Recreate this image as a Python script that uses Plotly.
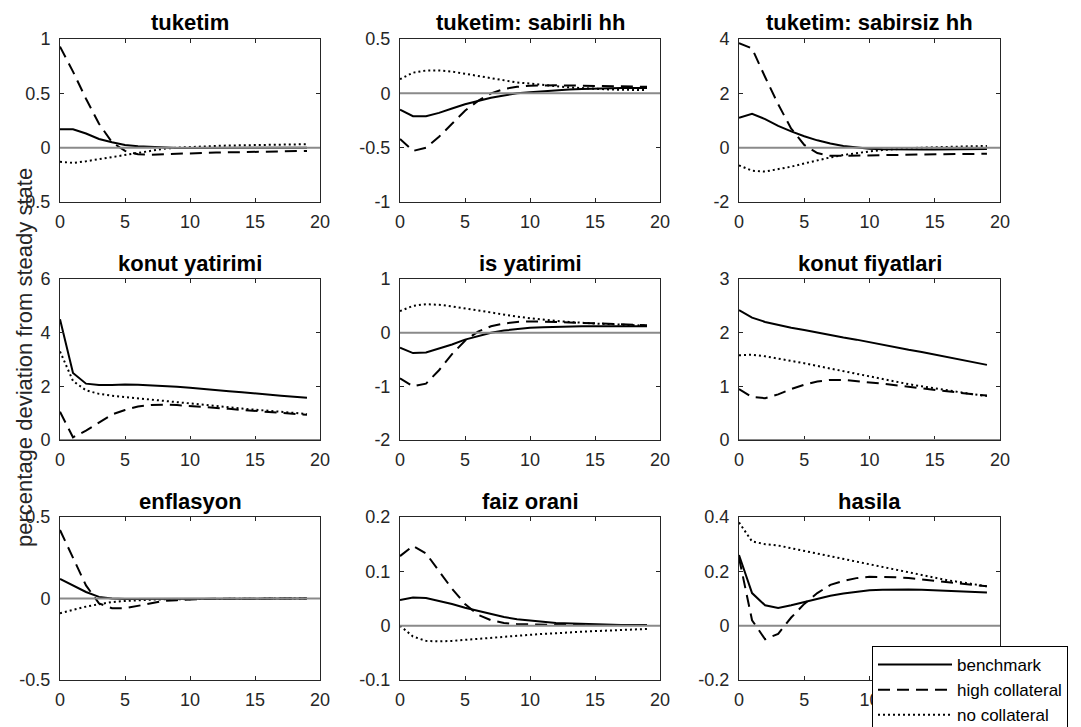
import plotly.graph_objects as go

W, H = 1081, 727

periods = list(range(20))

panel_titles = ["tuketim", "tuketim: sabirli hh", "tuketim: sabirsiz hh",
                "konut yatirimi", "is yatirimi", "konut fiyatlari",
                "enflasyon", "faiz orani", "hasila"]

series_names = ["benchmark", "high collateral", "no collateral"]

# --- tuketim
tuketim_bench = [0.17, 0.17, 0.13, 0.08, 0.05, 0.025, 0.012, 0.005, 0.0, -0.003, -0.004, -0.004, -0.004, -0.003, -0.003, -0.002, -0.002, -0.001, -0.001, 0.0]
tuketim_high = [0.93, 0.70, 0.45, 0.22, 0.05, -0.03, -0.06, -0.065, -0.06, -0.055, -0.05, -0.048, -0.045, -0.043, -0.04, -0.038, -0.036, -0.034, -0.032, -0.03]
tuketim_no = [-0.13, -0.14, -0.125, -0.105, -0.085, -0.065, -0.045, -0.025, -0.01, 0.0, 0.007, 0.012, 0.016, 0.02, 0.022, 0.025, 0.027, 0.029, 0.03, 0.032]

# --- tuketim: sabirli hh
sabirli_bench = [-0.15, -0.21, -0.21, -0.18, -0.14, -0.10, -0.07, -0.04, -0.02, 0.0, 0.01, 0.02, 0.03, 0.035, 0.04, 0.045, 0.047, 0.049, 0.05, 0.05]
sabirli_high = [-0.42, -0.53, -0.50, -0.40, -0.28, -0.16, -0.07, 0.0, 0.04, 0.06, 0.07, 0.075, 0.075, 0.072, 0.07, 0.068, 0.066, 0.064, 0.062, 0.06]
sabirli_no = [0.13, 0.19, 0.21, 0.21, 0.20, 0.18, 0.16, 0.14, 0.12, 0.10, 0.09, 0.075, 0.065, 0.055, 0.047, 0.04, 0.036, 0.033, 0.031, 0.03]

# --- tuketim: sabirsiz hh
sabirsiz_bench = [1.10, 1.25, 1.05, 0.80, 0.60, 0.42, 0.27, 0.15, 0.06, 0.0, -0.04, -0.06, -0.07, -0.07, -0.07, -0.065, -0.06, -0.06, -0.055, -0.05]
sabirsiz_high = [3.85, 3.65, 2.60, 1.60, 0.70, 0.10, -0.20, -0.30, -0.30, -0.29, -0.28, -0.27, -0.26, -0.25, -0.25, -0.24, -0.24, -0.23, -0.23, -0.22]
sabirsiz_no = [-0.65, -0.85, -0.88, -0.80, -0.70, -0.58, -0.46, -0.36, -0.27, -0.20, -0.14, -0.09, -0.05, -0.02, 0.0, 0.02, 0.035, 0.045, 0.055, 0.06]

# --- konut yatirimi
konut_yat_bench = [4.50, 2.50, 2.10, 2.05, 2.05, 2.07, 2.06, 2.04, 2.02, 1.98, 1.95, 1.90, 1.86, 1.82, 1.78, 1.73, 1.69, 1.65, 1.61, 1.57]
konut_yat_high = [1.05, 0.10, 0.35, 0.65, 0.95, 1.12, 1.25, 1.30, 1.32, 1.30, 1.27, 1.24, 1.20, 1.16, 1.12, 1.08, 1.04, 1.00, 0.97, 0.94]
konut_yat_no = [3.30, 2.20, 1.85, 1.72, 1.65, 1.60, 1.55, 1.50, 1.45, 1.40, 1.35, 1.30, 1.26, 1.21, 1.17, 1.13, 1.09, 1.05, 1.01, 0.97]

# --- is yatirimi
is_yat_bench = [-0.28, -0.38, -0.37, -0.30, -0.22, -0.13, -0.06, 0.0, 0.04, 0.07, 0.09, 0.10, 0.11, 0.12, 0.12, 0.12, 0.12, 0.12, 0.12, 0.12]
is_yat_high = [-0.85, -1.00, -0.95, -0.70, -0.40, -0.15, 0.02, 0.12, 0.17, 0.20, 0.21, 0.21, 0.20, 0.19, 0.18, 0.17, 0.16, 0.155, 0.15, 0.14]
is_yat_no = [0.40, 0.50, 0.53, 0.52, 0.49, 0.45, 0.41, 0.37, 0.33, 0.30, 0.27, 0.24, 0.22, 0.20, 0.18, 0.17, 0.16, 0.15, 0.14, 0.13]

# --- konut fiyatlari
konut_fiy_bench = [2.42, 2.28, 2.20, 2.14, 2.09, 2.05, 2.00, 1.96, 1.91, 1.87, 1.82, 1.78, 1.73, 1.68, 1.64, 1.59, 1.55, 1.50, 1.45, 1.40]
konut_fiy_high = [0.95, 0.80, 0.78, 0.85, 0.95, 1.03, 1.09, 1.12, 1.12, 1.10, 1.08, 1.05, 1.02, 0.99, 0.96, 0.93, 0.90, 0.87, 0.85, 0.83]
konut_fiy_no = [1.58, 1.59, 1.56, 1.52, 1.48, 1.43, 1.38, 1.33, 1.28, 1.23, 1.18, 1.13, 1.08, 1.04, 1.00, 0.96, 0.92, 0.89, 0.85, 0.82]

# --- enflasyon
enf_bench = [0.12, 0.08, 0.04, 0.01, 0.0, -0.003, -0.003, -0.002, -0.002, -0.001, -0.001, -0.001, 0.0, 0.0, 0.0, 0.0, 0.0, 0.0, 0.0, 0.0]
enf_high = [0.42, 0.25, 0.08, -0.03, -0.06, -0.06, -0.045, -0.03, -0.015, -0.01, -0.005, -0.003, -0.002, -0.001, 0.0, 0.0, 0.0, 0.0, 0.0, 0.0]
enf_no = [-0.09, -0.07, -0.05, -0.035, -0.022, -0.015, -0.01, -0.007, -0.005, -0.004, -0.003, -0.002, -0.002, -0.001, -0.001, 0.0, 0.0, 0.0, 0.0, 0.0]

# --- faiz orani
faiz_bench = [0.047, 0.052, 0.051, 0.046, 0.040, 0.033, 0.027, 0.021, 0.016, 0.012, 0.009, 0.007, 0.005, 0.004, 0.003, 0.002, 0.002, 0.001, 0.001, 0.001]
faiz_high = [0.128, 0.147, 0.133, 0.100, 0.068, 0.040, 0.020, 0.010, 0.005, 0.003, 0.002, 0.002, 0.001, 0.001, 0.001, 0.001, 0.001, 0.001, 0.001, 0.001]
faiz_no = [0.0, -0.020, -0.028, -0.029, -0.028, -0.026, -0.024, -0.022, -0.020, -0.018, -0.017, -0.015, -0.014, -0.012, -0.011, -0.010, -0.009, -0.008, -0.007, -0.006]

# --- hasila
hasila_bench = [0.26, 0.12, 0.075, 0.065, 0.075, 0.087, 0.10, 0.11, 0.118, 0.125, 0.13, 0.132, 0.133, 0.133, 0.132, 0.13, 0.128, 0.126, 0.124, 0.122]
hasila_high = [0.25, 0.02, -0.05, -0.03, 0.03, 0.08, 0.12, 0.15, 0.165, 0.175, 0.18, 0.18, 0.178, 0.175, 0.17, 0.165, 0.16, 0.155, 0.15, 0.145]
hasila_no = [0.38, 0.31, 0.30, 0.295, 0.285, 0.275, 0.265, 0.255, 0.245, 0.235, 0.225, 0.215, 0.205, 0.195, 0.185, 0.175, 0.167, 0.16, 0.152, 0.145]

# y tick values / labels per panel
y_ranges = [[-0.5, 1], [-1, 0.5], [-2, 4],
            [0, 6], [-2, 1], [0, 3],
            [-0.5, 0.5], [-0.1, 0.2], [-0.2, 0.4]]
y_tickvals = [[-0.5, 0, 0.5, 1], [-1, -0.5, 0, 0.5], [-2, 0, 2, 4],
              [0, 2, 4, 6], [-2, -1, 0, 1], [0, 1, 2, 3],
              [-0.5, 0, 0.5], [-0.1, 0, 0.1, 0.2], [-0.2, 0, 0.2, 0.4]]
y_ticktext = [["-0.5", "0", "0.5", "1"], ["-1", "-0.5", "0", "0.5"], ["-2", "0", "2", "4"],
              ["0", "2", "4", "6"], ["-2", "-1", "0", "1"], ["0", "1", "2", "3"],
              ["-0.5", "0", "0.5"], ["-0.1", "0", "0.1", "0.2"], ["-0.2", "0", "0.2", "0.4"]]
x_tickvals = [0, 5, 10, 15, 20]
y_label = "percentage deviation from steady state"

panel_data = [
    (tuketim_bench, tuketim_high, tuketim_no),
    (sabirli_bench, sabirli_high, sabirli_no),
    (sabirsiz_bench, sabirsiz_high, sabirsiz_no),
    (konut_yat_bench, konut_yat_high, konut_yat_no),
    (is_yat_bench, is_yat_high, is_yat_no),
    (konut_fiy_bench, konut_fiy_high, konut_fiy_no),
    (enf_bench, enf_high, enf_no),
    (faiz_bench, faiz_high, faiz_no),
    (hasila_bench, hasila_high, hasila_no),
]

# layout geometry in pixels
col_px = [(60, 320), (400, 660), (739, 1000)]
row_px = [(39, 202), (279, 440), (517, 680)]

FONT = "Liberation Sans, Arial, Helvetica, sans-serif"
AXC = "#262626"
styles = [dict(color="black", width=2, dash="solid"),
          dict(color="black", width=2, dash="12px,7px"),
          dict(color="black", width=2, dash="2px,3px")]

fig = go.Figure()
annotations = []
shapes = []
layout_axes = {}

for i, (title, data) in enumerate(zip(panel_titles, panel_data)):
    r, c = divmod(i, 3)
    n = i + 1
    xa = "x" if n == 1 else f"x{n}"
    ya = "y" if n == 1 else f"y{n}"
    xkey = "xaxis" if n == 1 else f"xaxis{n}"
    ykey = "yaxis" if n == 1 else f"yaxis{n}"
    x0, x1 = col_px[c]
    y0, y1 = row_px[r]
    layout_axes[xkey] = dict(
        domain=[x0 / W, x1 / W], anchor=ya, range=[0, 20],
        tickvals=x_tickvals, ticks="inside", ticklen=4, tickcolor=AXC,
        showline=True, linecolor=AXC, linewidth=1, mirror="ticks",
        showgrid=False, zeroline=False, automargin=False,
        ticklabelstandoff=3,
        tickfont=dict(family=FONT, size=18, color=AXC), fixedrange=True)
    layout_axes[ykey] = dict(
        domain=[1 - y1 / H, 1 - y0 / H], anchor=xa, range=y_ranges[i],
        tickvals=y_tickvals[i], ticktext=y_ticktext[i],
        ticks="inside", ticklen=4, tickcolor=AXC,
        showline=True, linecolor=AXC, linewidth=1, mirror="ticks",
        showgrid=False, zeroline=False, automargin=False,
        ticklabelstandoff=5,
        tickfont=dict(family=FONT, size=18, color=AXC), fixedrange=True)
    for k, (vals, name, st) in enumerate(zip(data, series_names, styles)):
        fig.add_trace(go.Scatter(
            x=periods, y=vals, mode="lines", name=name, line=st,
            xaxis=xa, yaxis=ya, showlegend=(n == 9), legendrank=k + 1))
    shapes.append(dict(type="line", xref=f"{xa} domain", yref=ya,
                       x0=0, x1=1, y0=0, y1=0,
                       line=dict(color="#8a8a8a", width=2), layer="above"))
    annotations.append(dict(
        text=f"<b>{title}</b>", x=(x0 + x1) / 2 / W, y=1 - (y0 - 16) / H,
        xref="paper", yref="paper", xanchor="center", yanchor="middle",
        showarrow=False, font=dict(family=FONT, size=22, color="black")))

annotations.append(dict(
    text=y_label, x=24 / W, y=1 - 358 / H, xref="paper", yref="paper",
    xanchor="center", yanchor="middle", textangle=-90, showarrow=False,
    font=dict(family=FONT, size=22, color=AXC)))

fig.update_layout(
    width=W, height=H,
    margin=dict(l=0, r=0, t=0, b=0, pad=0, autoexpand=False),
    paper_bgcolor="white", plot_bgcolor="white",
    annotations=annotations, shapes=shapes,
    legend=dict(x=872 / W, y=1 - 646 / H, xanchor="left", yanchor="top",
                bgcolor="white", bordercolor="black", borderwidth=1,
                font=dict(family=FONT, size=17, color="black"),
                itemwidth=74, tracegroupgap=0),
    **layout_axes)

fig.write_html("out.html", config={"displayModeBar": False},
               post_script="document.body.style.margin='0';document.body.style.overflow='hidden';")
